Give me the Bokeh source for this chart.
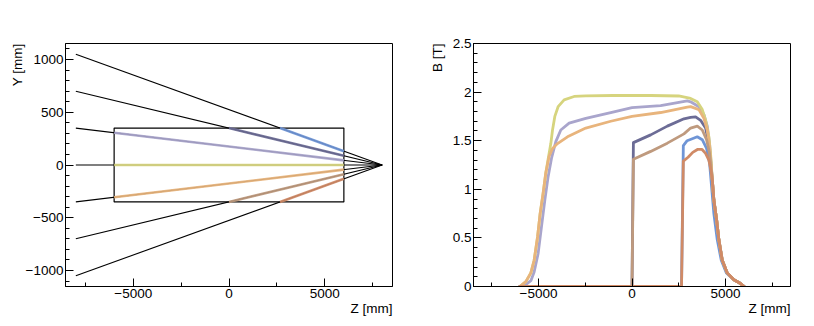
import numpy as np
from bokeh.plotting import figure
from bokeh.layouts import row
from bokeh.models import Range1d, SingleIntervalTicker, CustomJSTickFormatter, Title
from bokeh.embed import file_html
from bokeh.resources import INLINE

# ---------------- data ----------------
# Left panel: straight tracks from z=-8000 to the apex at z=8000, y=0
track_y0 = [1050, 700, 350, 0, -350, -700, -1050]
track_z_start = -8000
track_z_end = 8000
box_z = [-6000, 6000]
box_y = [-350, 350]
track_colors = ["#6f95d6", "#6c6c96", "#a9a5cc", "#d6d47e", "#e8b47c", "#bf9a7e", "#d08a66"]

# Right panel: |B| along each track
z_tail = [4295, 4380, 4525, 4648, 4829, 5096, 5449, 5807, 6000]
b_tail = [1.10, 0.89, 0.69, 0.48, 0.27, 0.14, 0.07, 0.03, 0.0]

z_blue = [-6000, 2650, 2746, 2950, 3226, 3493, 3760, 3990, 4151, 4257, 4380, 4562, 4776, 5050, 5449, 5807, 6000]
b_blue = [0, 0, 1.45, 1.50, 1.52, 1.54, 1.51, 1.42, 1.27, 1.03, 0.75, 0.48, 0.27, 0.14, 0.07, 0.03, 0]

z_slate = [-6000, 0, 75, 1000, 1890, 2780, 3136, 3403, 3670, 3937, 4113, 4204]
b_slate = [0, 0, 1.48, 1.56, 1.65, 1.725, 1.74, 1.745, 1.71, 1.63, 1.47, 1.30]

z_purple = [-6000, -5680, -5410, -5235, -5021, -4840, -4663, -4487, -4306, -4076, -3809, -3365,
            -2473, -1138, 0, 1533, 2960, 3136, 3579, 3846, 4028, 4151, 4220]
b_purple = [0, 0.02, 0.06, 0.15, 0.34, 0.62, 0.89, 1.13, 1.32, 1.49, 1.61, 1.68,
            1.73, 1.79, 1.84, 1.86, 1.91, 1.90, 1.85, 1.77, 1.65, 1.47, 1.30]

z_yellow = [-6000, -5678, -5411, -5235, -5053, -4915, -4754, -4610, -4480, -4343, -4252, -4129,
            -3953, -3632, -3098, -2473, -1000, 1000, 2500, 3136, 3493, 3760, 3937, 4113, 4210]
b_yellow = [0, 0.05, 0.14, 0.27, 0.51, 0.75, 0.96, 1.17, 1.32, 1.47, 1.61, 1.75,
            1.85, 1.92, 1.955, 1.962, 1.965, 1.965, 1.96, 1.935, 1.90, 1.82, 1.71, 1.54, 1.35]

z_orange = [-6000, -5678, -5411, -5235, -5053, -4915, -4754, -4610, -4434, -4252, -3985, -3451,
            -2473, -1138, 0, 1533, 2960, 3136, 3579, 3846, 4028, 4151, 4220]
b_orange = [0, 0.05, 0.14, 0.27, 0.51, 0.75, 0.96, 1.17, 1.34, 1.42, 1.47, 1.54,
            1.63, 1.70, 1.75, 1.79, 1.845, 1.85, 1.82, 1.73, 1.61, 1.44, 1.28]

z_tan = [-6000, 0, 75, 1000, 1890, 2780, 3136, 3493, 3760, 3990, 4151, 4230]
b_tan = [0, 0, 1.31, 1.39, 1.475, 1.57, 1.63, 1.65, 1.61, 1.51, 1.37, 1.22]

z_rust = [-6000, 2650, 2746, 3000, 3250, 3500, 3750, 3937, 4113, 4220]
b_rust = [0, 0, 1.29, 1.33, 1.38, 1.41, 1.41, 1.37, 1.30, 1.20]

curves = [
    (z_blue, b_blue, False),
    (z_slate, b_slate, True),
    (z_purple, b_purple, True),
    (z_yellow, b_yellow, True),
    (z_orange, b_orange, True),
    (z_tan, b_tan, True),
    (z_rust, b_rust, True),
]

FONT = "Liberation Sans"
FS = "13.5px"
FIG_H = 322
MB_TOP = 43
MB_BOTTOM = FIG_H - MB_TOP - 243


def style(p, x_int, y_int):
    p.grid.visible = False
    p.outline_line_color = "black"
    p.outline_line_width = 1
    p.background_fill_color = "white"
    p.border_fill_color = "white"
    p.xaxis.ticker = SingleIntervalTicker(interval=x_int, num_minor_ticks=2)
    p.yaxis.ticker = SingleIntervalTicker(interval=y_int, num_minor_ticks=5)
    for ax in (p.xaxis[0], p.yaxis[0]):
        ax.formatter = CustomJSTickFormatter(
            code="return tick < 0 ? '\u2212' + String(Math.abs(tick)) : String(tick);")
        ax.major_tick_in = 8
        ax.major_tick_out = 0
        ax.minor_tick_in = 4
        ax.minor_tick_out = 0
        ax.major_label_text_font = FONT
        ax.major_label_text_font_size = FS
        ax.major_label_text_color = "black"
        ax.axis_line_color = "black"
        ax.major_tick_line_color = "black"
        ax.minor_tick_line_color = "black"
        ax.major_label_standoff = 2


def titles(p, xlab, ylab, y_standoff):
    p.add_layout(Title(text=xlab, align="right", standoff=-4, text_font=FONT,
                       text_font_size=FS, text_font_style="normal", text_color="black"), "below")
    p.add_layout(Title(text=ylab, align="right", standoff=y_standoff, text_font=FONT,
                       text_font_size=FS, text_font_style="normal", text_color="black"), "left")


# ---------------- left panel ----------------
xr1 = (-8540, 8540)
yr1 = (-1152, 1152)
p1 = figure(width=415, height=FIG_H, x_range=Range1d(*xr1), y_range=Range1d(*yr1),
            output_backend="svg", toolbar_location=None,
            min_border_left=65, min_border_right=23, min_border_top=MB_TOP,
            min_border_bottom=MB_BOTTOM)
style(p1, 5000, 500)
titles(p1, "Z [mm]", "Y [mm]", -4)

p1.quad(left=box_z[0], right=box_z[1], bottom=box_y[0], top=box_y[1],
        fill_alpha=0, line_color="black", line_width=1.2)
for y0 in track_y0:
    p1.line([track_z_start, track_z_end], [y0, 0], line_color="black", line_width=1.1)
for y0, c in zip(track_y0, track_colors):
    def y_at(z, y0=y0):
        return y0 * (track_z_end - z) / (track_z_end - track_z_start)
    if y0 == 0:
        z_in = box_z[0]
    else:
        z_in = max(box_z[0], track_z_end - box_y[1] * (track_z_end - track_z_start) / abs(y0))
    p1.line([z_in, box_z[1]], [y_at(z_in), y_at(box_z[1])], line_color=c, line_width=2.6,
            line_alpha=0.92)

# ---------------- right panel ----------------
xr2 = (-8480, 8480)
yr2 = (0, 2.5)
p2 = figure(width=391, height=FIG_H, x_range=Range1d(*xr2), y_range=Range1d(*yr2),
            output_backend="svg", toolbar_location=None,
            min_border_left=58, min_border_right=16, min_border_top=MB_TOP,
            min_border_bottom=MB_BOTTOM)
style(p2, 5000, 0.5)
titles(p2, "Z [mm]", "B [T]", 10)

for (zs, bs, use_tail), c in zip(curves, track_colors):
    if use_tail:
        zs = list(zs) + z_tail
        bs = list(bs) + b_tail
    p2.line(zs, bs, line_color=c, line_width=2.8, line_join="round", line_cap="round")

layout = row(p1, p2, spacing=0)
with open("out.html", "w", encoding="utf-8") as f:
    f.write(file_html(layout, INLINE))
